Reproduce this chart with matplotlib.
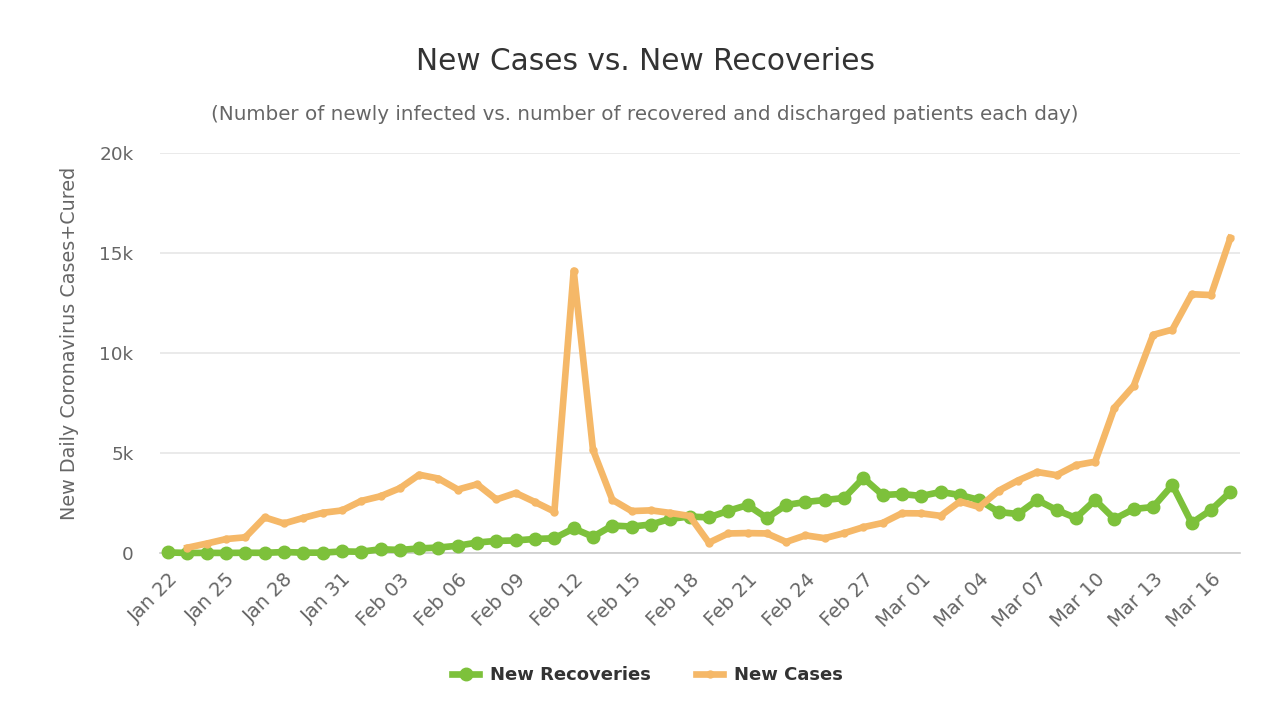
import matplotlib
matplotlib.use("Agg")
import matplotlib.pyplot as plt
import numpy as np

# ---- data ----
dates = ["Jan 22","Jan 23","Jan 24","Jan 25","Jan 26","Jan 27","Jan 28","Jan 29","Jan 30","Jan 31",
         "Feb 01","Feb 02","Feb 03","Feb 04","Feb 05","Feb 06","Feb 07","Feb 08","Feb 09","Feb 10",
         "Feb 11","Feb 12","Feb 13","Feb 14","Feb 15","Feb 16","Feb 17","Feb 18","Feb 19","Feb 20",
         "Feb 21","Feb 22","Feb 23","Feb 24","Feb 25","Feb 26","Feb 27","Feb 28","Feb 29","Mar 01",
         "Mar 02","Mar 03","Mar 04","Mar 05","Mar 06","Mar 07","Mar 08","Mar 09","Mar 10","Mar 11",
         "Mar 12","Mar 13","Mar 14","Mar 15","Mar 16","Mar 17"]

new_recoveries = [28, 2, 6, 3, 13, 9, 46, 19, 17, 79, 62, 188, 151, 229, 272, 363, 524, 605, 628, 702,
                  737, 1228, 812, 1373, 1323, 1425, 1708, 1824, 1779, 2109, 2395, 1750, 2400, 2550, 2650,
                  2750, 3750, 2900, 2950, 2850, 3050, 2900, 2650, 2050, 1950, 2650, 2150, 1750, 2650,
                  1700, 2200, 2300, 3400, 1500, 2150, 3050]

new_cases = [np.nan, 265, 472, 698, 785, 1781, 1477, 1755, 2010, 2127, 2603, 2838, 3239, 3915, 3721,
             3173, 3437, 2676, 3001, 2546, 2071, 14113, 5154, 2663, 2097, 2132, 2003, 1852, 516, 977,
             996, 978, 554, 882, 741, 992, 1292, 1503, 1989, 1981, 1858, 2573, 2298, 3111, 3625, 4049,
             3892, 4390, 4567, 7266, 8362, 10907, 11170, 12940, 12897, 15748]

y_ticks = [0, 5000, 10000, 15000, 20000]
y_tick_labels = ["0", "5k", "10k", "15k", "20k"]

title = "New Cases vs. New Recoveries"
subtitle = "(Number of newly infected vs. number of recovered and discharged patients each day)"
y_label = "New Daily Coronavirus Cases+Cured"

# ---- style ----
plt.rcParams['font.family'] = ['DejaVu Sans']
green = '#7DC13B'
orange = '#F5B868'

fig = plt.figure(figsize=(12.8, 7.17), dpi=100)
ax = fig.add_axes([160/1280, 1-553/717, 1080/1280, 400/717])

x = np.arange(len(dates))
ax.plot(x, new_recoveries, color=green, lw=4.8, marker='o', ms=9, mec=green, mfc=green,
        label="New Recoveries", clip_on=False, zorder=3, solid_joinstyle='round')
ax.plot(x, new_cases, color=orange, lw=4.8, marker='o', ms=5, mec=orange, mfc=orange,
        label="New Cases", clip_on=False, zorder=4, solid_joinstyle='round')

ax.set_xlim(-0.42, 55.5)
ax.set_ylim(0, 20000)
ax.set_yticks(y_ticks)
ax.set_yticklabels(y_tick_labels)
ax.set_xticks(x[::3])
ax.set_xticklabels(dates[::3], rotation=45, ha='right', rotation_mode='anchor')

for s in ['top', 'right', 'left']:
    ax.spines[s].set_visible(False)
ax.spines['bottom'].set_color('#cccccc')
ax.spines['bottom'].set_linewidth(1.2)
ax.grid(axis='y', color='#e6e6e6', lw=1.2)
ax.set_axisbelow(True)
ax.tick_params(axis='y', length=0, pad=19, labelsize=13.3, labelcolor='#666666')
ax.tick_params(axis='x', length=0, pad=12, labelsize=14, labelcolor='#666666')

ax.set_ylabel(y_label, fontsize=13.8, color='#666666', va='center')
ax.yaxis.set_label_coords(-0.084, 0.524)

fig.text(0.504, 1-62/717, title, ha='center', va='center', fontsize=21.3, color='#333333')
fig.text(0.504, 1-114/717, subtitle, ha='center', va='center', fontsize=14.3, color='#666666')

leg = fig.legend(loc='center', bbox_to_anchor=(0.506, 1-675/717), ncol=2, frameon=False,
                 prop={'weight': 'bold', 'size': 13}, handlelength=1.5, columnspacing=2.5,
                 handletextpad=0.6)
for t in leg.get_texts():
    t.set_color('#333333')

fig.savefig("out.png", dpi=100, facecolor='white')
